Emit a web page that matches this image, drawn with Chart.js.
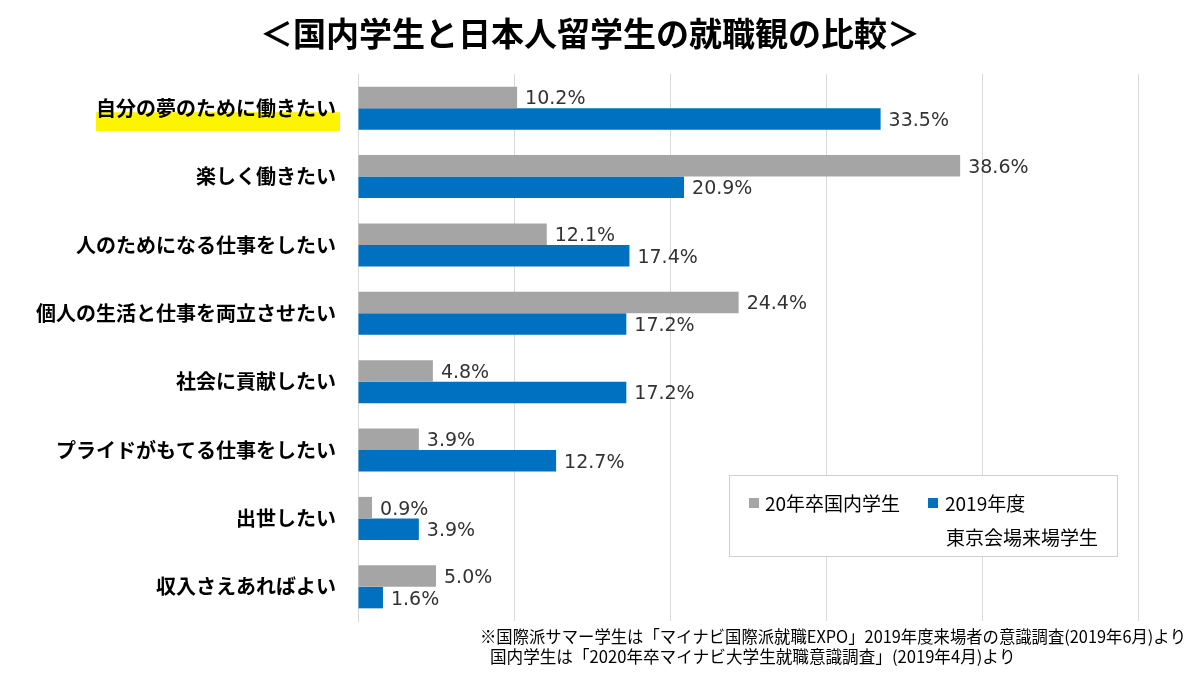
<!DOCTYPE html>
<html lang="ja">
<head>
<meta charset="UTF-8">
<title>国内学生と日本人留学生の就職観の比較</title>
<script src="https://cdn.jsdelivr.net/npm/chart.js"></script>
<style>
  html, body { margin: 0; padding: 0; background: #fff; }
  canvas { display: block; }
</style>
</head>
<body>
<canvas id="myChart" width="1200" height="675"></canvas>

<script>
  const titulo = '＜国内学生と日本人留学生の就職観の比較＞'
  const categorias = [
    '自分の夢のために働きたい',
    '楽しく働きたい',
    '人のためになる仕事をしたい',
    '個人の生活と仕事を両立させたい',
    '社会に貢献したい',
    'プライドがもてる仕事をしたい',
    '出世したい',
    '収入さえあればよい'
  ]
  const nomeSerie1 = ['20年卒国内学生']
  const nomeSerie2 = ['2019年度', '東京会場来場学生']
  const valoresSerie1 = [10.2, 38.6, 12.1, 24.4, 4.8, 3.9, 0.9, 5.0]
  const valoresSerie2 = [33.5, 20.9, 17.4, 17.2, 17.2, 12.7, 3.9, 1.6]
  const notas = [
    '※国際派サマー学生は「マイナビ国際派就職EXPO」2019年度来場者の意識調査(2019年6月)より',
    '国内学生は「2020年卒マイナビ大学生就職意識調査」(2019年4月)より'
  ]

  const cinza = '#a5a5a5'
  const azul = '#0070c0'
  const fonteJP = '"Noto Sans CJK JP", "Noto Sans", sans-serif'

  // marcador amarelo, titulo, legenda, rotulos e notas
  const extras = {
    id: 'extras',
    beforeDraw(chart) {
      const ctx = chart.ctx
      const y = chart.scales.y
      const yc = y.getPixelForValue(0)
      ctx.save()
      ctx.font = 'bold 20px ' + fonteJP
      const w = ctx.measureText(categorias[0]).width
      const dir = y.right - 20
      ctx.fillStyle = '#fcf400'
      ctx.fillRect(dir - w - 2, yc + 4, w + 4, 19)
      ctx.restore()
    },
    afterDatasetsDraw(chart) {
      const ctx = chart.ctx
      ctx.save()
      ctx.font = '19px "DejaVu Sans", sans-serif'
      ctx.fillStyle = '#333'
      ctx.textAlign = 'left'
      ctx.textBaseline = 'middle'
      chart.data.datasets.forEach((ds, i) => {
        chart.getDatasetMeta(i).data.forEach((el, j) => {
          ctx.fillText(ds.data[j].toFixed(1) + '%', el.x + 8, el.y + 2)
        })
      })
      ctx.restore()
    },
    afterDraw(chart) {
      const ctx = chart.ctx
      ctx.save()

      // titulo
      ctx.fillStyle = '#000'
      ctx.font = 'bold 33px ' + fonteJP
      ctx.textAlign = 'center'
      ctx.textBaseline = 'middle'
      ctx.fillText(titulo, 590, 33)

      // legenda
      ctx.fillStyle = '#fff'
      ctx.fillRect(729, 475, 388, 81)
      ctx.strokeStyle = '#d0d0d0'
      ctx.lineWidth = 1
      ctx.strokeRect(729.5, 475.5, 388, 81)

      ctx.font = '19px ' + fonteJP
      ctx.textAlign = 'left'
      ctx.fillStyle = cinza
      ctx.fillRect(749, 498, 10, 10)
      ctx.fillStyle = '#000'
      ctx.fillText(nomeSerie1[0], 765, 504)
      ctx.fillStyle = azul
      ctx.fillRect(928, 498, 10, 10)
      ctx.fillStyle = '#000'
      ctx.fillText(nomeSerie2[0], 945, 504)
      ctx.fillText(nomeSerie2[1], 946, 538)

      // notas
      ctx.font = '16.6px ' + fonteJP
      ctx.fillText(notas[0], 480, 637, 706)
      ctx.fillText(notas[1], 490, 657, 527)

      ctx.restore()
    }
  }

  const data = {
    labels: categorias,
    datasets: [{
      label: nomeSerie1.join(''),
      backgroundColor: cinza,
      data: valoresSerie1
    }, {
      label: nomeSerie2.join(''),
      backgroundColor: azul,
      data: valoresSerie2
    }]
  }

  const config = {
    type: 'bar',
    data: data,
    options: {
      indexAxis: 'y',
      responsive: false,
      animation: false,
      categoryPercentage: 0.63,
      barPercentage: 1.0,
      layout: { padding: { top: 74, bottom: 54, left: 0, right: 62 } },
      plugins: {
        legend: { display: false },
        title: { display: false },
        tooltip: { enabled: false }
      },
      scales: {
        x: {
          min: 0,
          max: 50,
          ticks: { display: false, stepSize: 10 },
          grid: { color: '#d9d9d9', drawTicks: false },
          border: { display: false },
          afterFit(s) { s.height = 0 }
        },
        y: {
          ticks: {
            color: '#000',
            padding: 22,
            font: { family: fonteJP, size: 20, weight: 'bold' }
          },
          grid: { display: false, drawTicks: false },
          border: { display: true, color: '#d9d9d9' },
          afterFit(s) { s.width = 358 }
        }
      }
    },
    plugins: [extras]
  }

  new Chart(document.getElementById('myChart'), config)
</script>
</body>
</html>
